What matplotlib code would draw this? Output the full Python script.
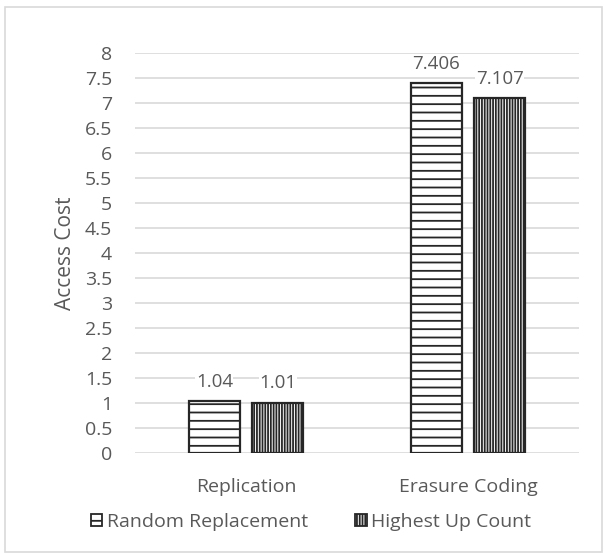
import matplotlib
matplotlib.use("Agg")
import matplotlib.pyplot as plt
import numpy as np
from matplotlib.patches import Rectangle, Patch

categories = ["Replication", "Erasure Coding"]
series_names = ["Random Replacement", "Highest Up Count"]
random_replacement = [1.04, 7.406]
highest_up_count = [1.01, 7.107]
value_labels = [["1.04", "7.406"], ["1.01", "7.107"]]
yticks = [0, 0.5, 1, 1.5, 2, 2.5, 3, 3.5, 4, 4.5, 5, 5.5, 6, 6.5, 7, 7.5, 8]

plt.rcParams['font.family'] = ['Open Sans', 'DejaVu Sans']
plt.rcParams['hatch.color'] = '#3a3a3a'
plt.rcParams['hatch.linewidth'] = 1.3
txt = '#595959'

fig = plt.figure(figsize=(6.04, 5.55), dpi=100)
ax = fig.add_axes([135/604, 1-453/555, (579-135)/604, (453-53)/555])

x = np.arange(len(categories))
w = 0.23
gap = 0.055
hatches = ['--', '||||||']
for i, (vals, h) in enumerate(zip([random_replacement, highest_up_count], hatches)):
    pos = x + (i - 0.5) * (w + gap)
    bars = ax.bar(pos, vals, width=w, facecolor='white', edgecolor='#262626',
                  linewidth=1.6, hatch=h, zorder=3, label=series_names[i])
    for b, lab in zip(bars, value_labels[i]):
        ax.text(b.get_x() + b.get_width()/2, b.get_height() + 0.2, lab,
                ha='center', va='bottom', fontsize=13.5, color=txt, zorder=4,
                bbox=dict(facecolor='white', edgecolor='none', pad=0.3))

ax.set_xlim(-0.5, 1.5)
ax.set_ylim(0, 8)
ax.set_yticks(yticks)
ax.set_yticklabels([f"{t:g}" for t in yticks])
ax.set_xticks(x)
ax.set_xticklabels(categories)
ax.grid(axis='y', color='#d9d9d9', linewidth=1.2, zorder=0)
for s in ax.spines.values():
    s.set_visible(False)
ax.tick_params(axis='both', length=0, labelsize=14, colors=txt)
ax.tick_params(axis='y', pad=16.5)
ax.tick_params(axis='x', pad=18)
ax.set_ylabel("Access Cost", fontsize=15, color=txt, labelpad=6)

leg = fig.legend(handles=[Patch(facecolor='white', edgecolor='#262626', hatch='--', linewidth=1.3),
                          Patch(facecolor='white', edgecolor='#262626', hatch='||||||', linewidth=1.3)],
                 labels=series_names, loc='center', bbox_to_anchor=(0.515, 1-522/555),
                 ncol=2, frameon=False, fontsize=14, handlelength=0.6, handleheight=0.6,
                 handletextpad=0.25, columnspacing=2.4, labelcolor=txt)

fig.patches.append(Rectangle((5/604, 3/555), 597/604, 545/555, transform=fig.transFigure,
                             facecolor='none', edgecolor='#d9d9d9', linewidth=1.2))

fig.savefig("out.png", dpi=100)
